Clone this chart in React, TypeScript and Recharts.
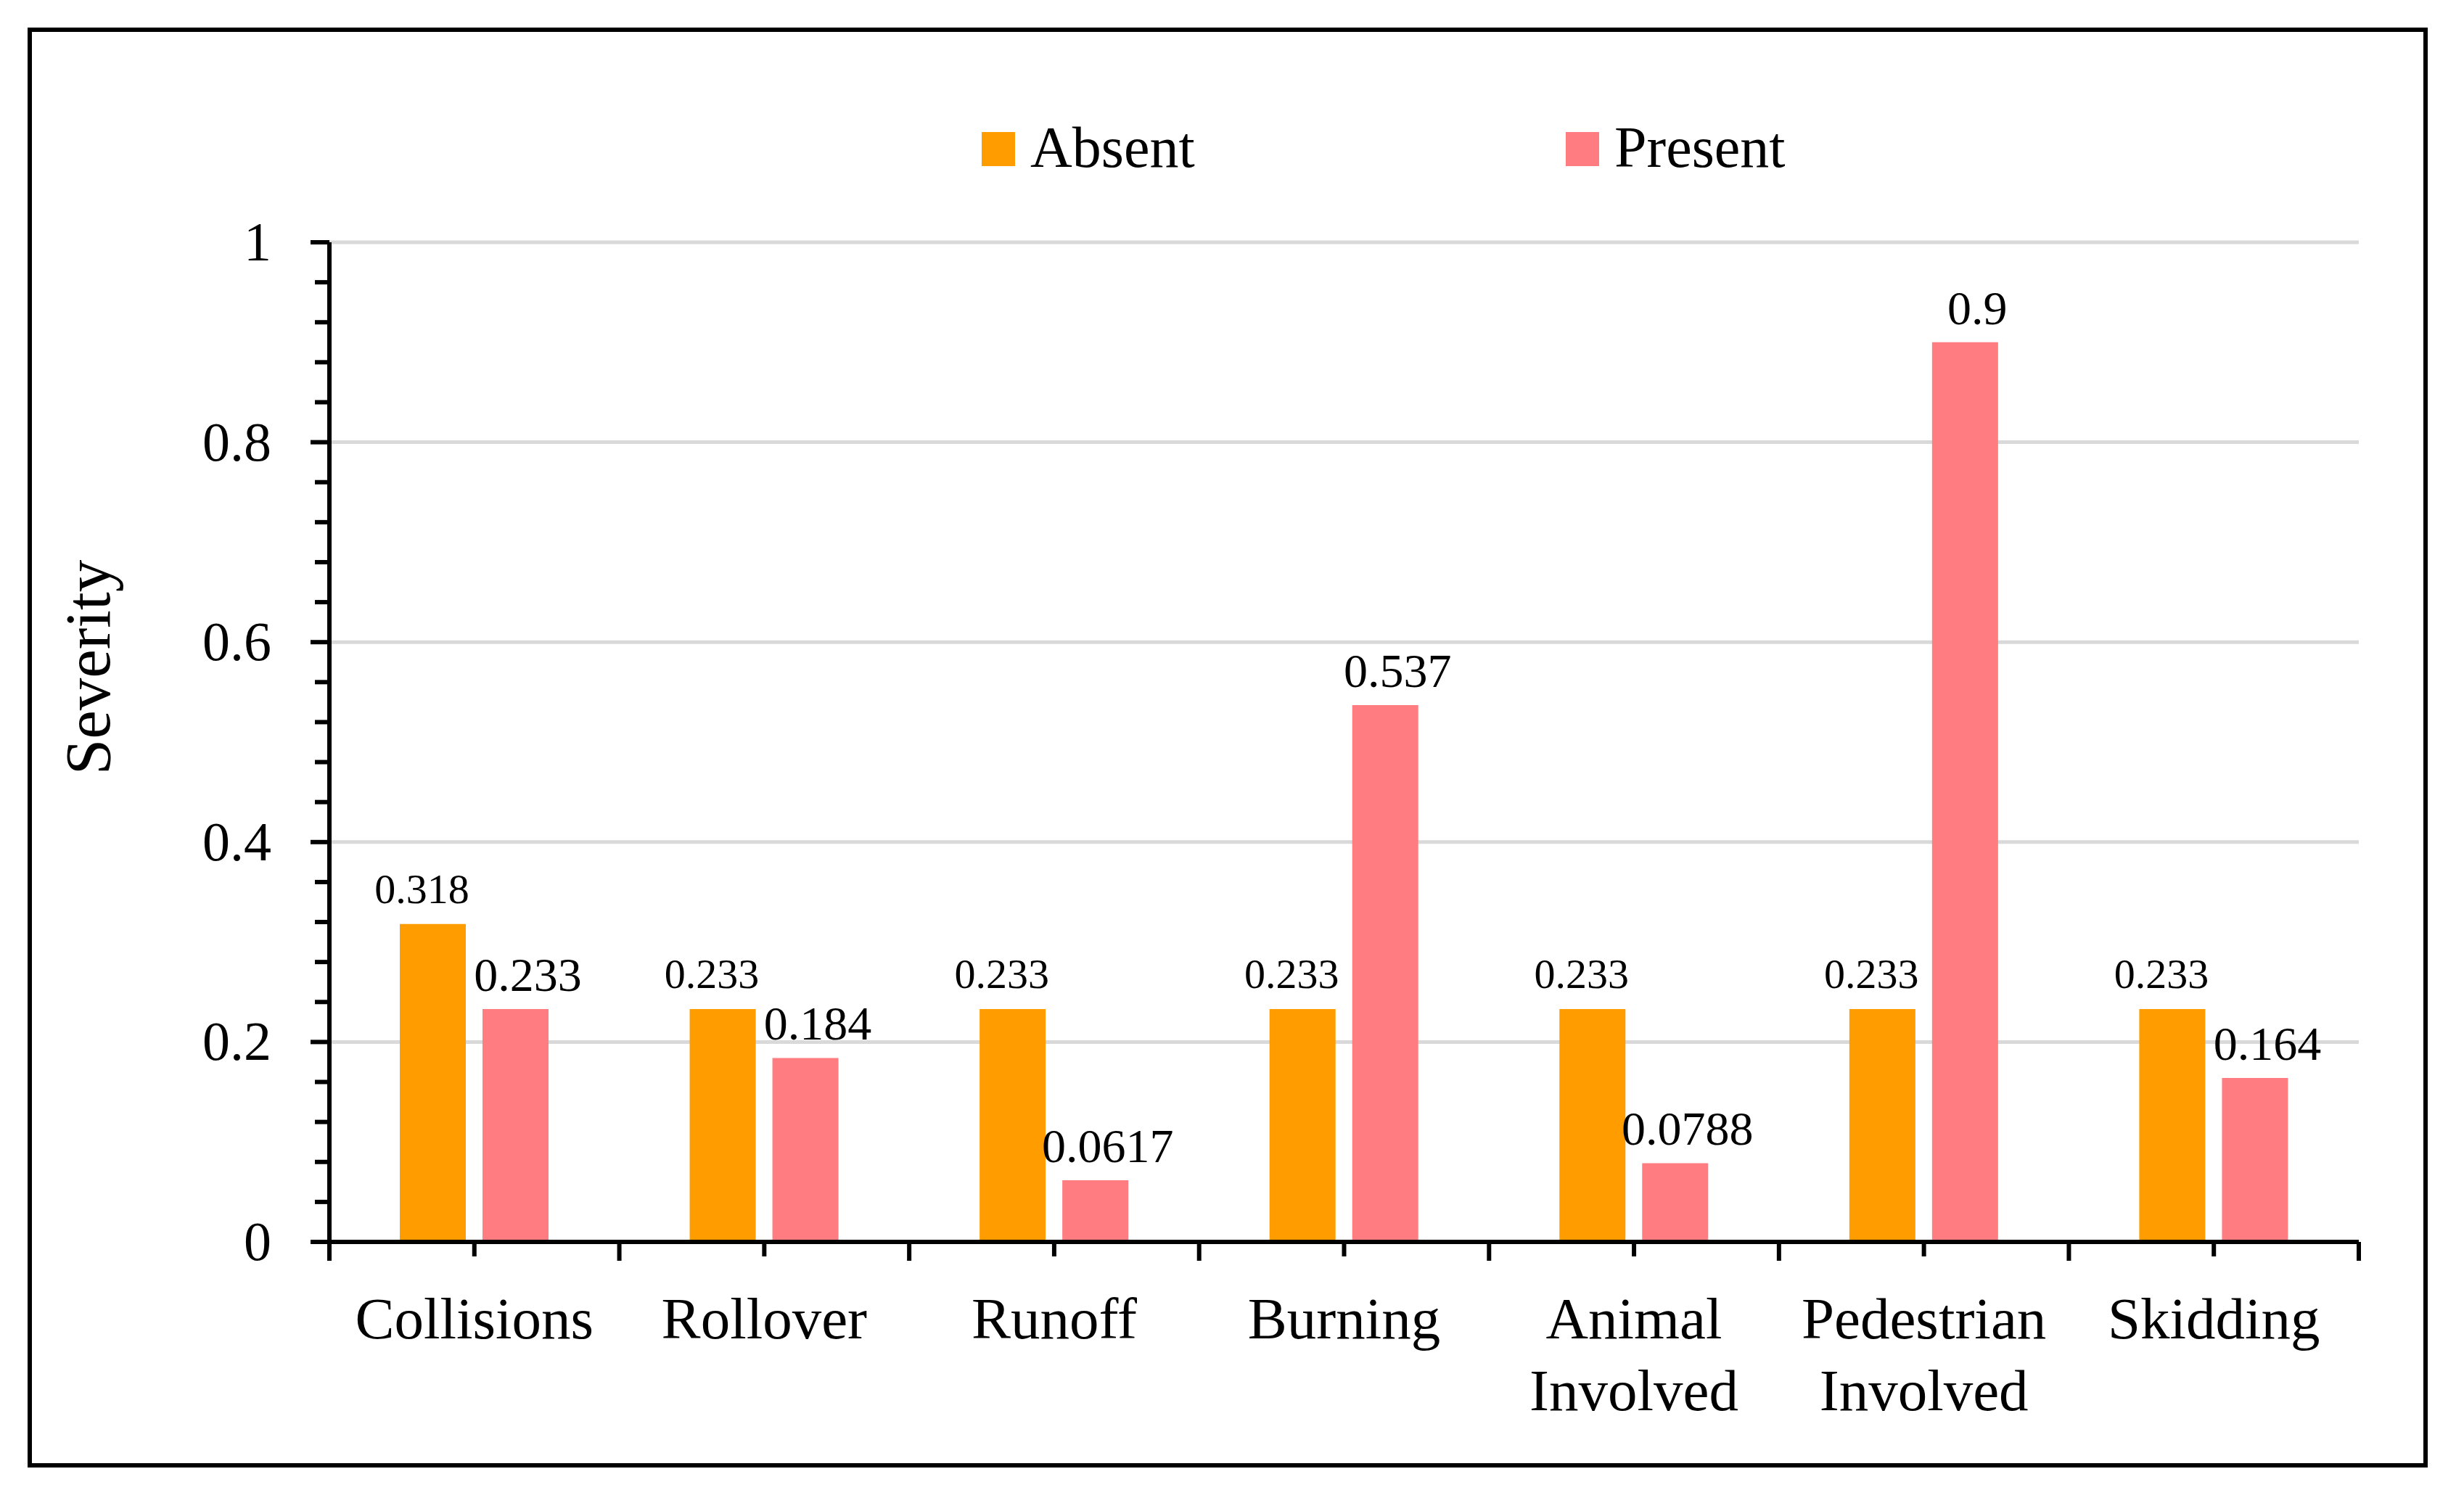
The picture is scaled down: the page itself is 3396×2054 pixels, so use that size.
import React from 'react';
import { BarChart, Bar, XAxis, YAxis, CartesianGrid, LabelList } from 'recharts';

const categories = ['Collisions', 'Rollover', 'Runoff', 'Burning', 'Animal Involved', 'Pedestrian Involved', 'Skidding'];
const absentValues = [0.318, 0.233, 0.233, 0.233, 0.233, 0.233, 0.233];
const presentValues = [0.233, 0.184, 0.0617, 0.537, 0.0788, 0.9, 0.164];
const seriesNames = ['Absent', 'Present'];
const majorTicks = [0, 0.2, 0.4, 0.6, 0.8, 1];

const FONT = "'Palatino Linotype', 'Book Antiqua', Palatino, 'Liberation Serif', serif";
const COLORS = ['#FF9C00', '#FF7C80'];
const W = 3396;
const H = 2054;
const PLOT_LEFT = 454;
const PLOT_RIGHT = 3251;
const BAND = (PLOT_RIGHT - PLOT_LEFT) / categories.length;

// minor ticks every 0.04
const yTicks = Array.from({ length: 26 }, (_, i) => (i * 4) / 100);

const data = categories.map((name, i) => ({
  name,
  Absent: absentValues[i],
  Present: presentValues[i],
}));

function isMajor(v: number) {
  return majorTicks.some((m) => Math.abs(m - v) < 1e-6);
}

function YTick(props: any) {
  const { x, y, payload } = props;
  const v = payload.value as number;
  const major = isMajor(v);
  return (
    <g>
      <line x1={x - (major ? 26 : 20)} x2={x} y1={y} y2={y} stroke="#000" strokeWidth={6} />
      {major && (
        <text x={x - 80} y={y + 25} textAnchor="end" fontSize={76} fontFamily={FONT} fill="#000">
          {String(v)}
        </text>
      )}
    </g>
  );
}

function XTick(props: any) {
  const { x, y, payload, index } = props;
  const lines = String(payload.value).split(' ');
  const half = BAND / 2;
  return (
    <g>
      <line x1={x} x2={x} y1={y} y2={y + 20} stroke="#000" strokeWidth={6} />
      <line x1={x - half} x2={x - half} y1={y} y2={y + 26} stroke="#000" strokeWidth={6} />
      {index === categories.length - 1 && (
        <line x1={x + half} x2={x + half} y1={y} y2={y + 26} stroke="#000" strokeWidth={6} />
      )}
      <text textAnchor="middle" fontSize={81} fontFamily={FONT} fill="#000">
        {lines.map((l, i) => (
          <tspan key={i} x={x} y={y + 133 + i * 99}>
            {l}
          </tspan>
        ))}
      </text>
    </g>
  );
}

function makeValueLabel(dx: number, lift: number, size: number) {
  return (props: any) => {
    const { x, y, width, value } = props;
    return (
      <text x={x + width / 2 + dx} y={y - lift} textAnchor="middle" fontSize={size} fontFamily={FONT} fill="#000">
        {String(value)}
      </text>
    );
  };
}

export default function App() {
  return (
    <div style={{ position: 'absolute', left: 0, top: 0, width: W, height: H, background: '#fff', overflow: 'hidden' }}>
      <div
        style={{
          position: 'absolute',
          left: 38,
          top: 38,
          width: 3346 - 38,
          height: 2023 - 38,
          border: '6px solid #000',
          boxSizing: 'border-box',
        }}
      />
      {seriesNames.map((s, i) => (
        <div
          key={s}
          style={{
            position: 'absolute',
            left: 1353 + i * 805,
            top: 150,
            height: 110,
            display: 'flex',
            alignItems: 'center',
            fontFamily: FONT,
            fontSize: 80,
            color: '#000',
            whiteSpace: 'nowrap',
          }}
        >
          <span style={{ display: 'inline-block', width: 46, height: 47, background: COLORS[i], marginRight: 21 }} />
          <span style={{ lineHeight: '110px', position: 'relative', top: -2 }}>{s}</span>
        </div>
      ))}
      <div style={{ position: 'absolute', left: 0, top: 0 }}>
        <BarChart
          width={W}
          height={H}
          data={data}
          margin={{ top: 334, right: W - PLOT_RIGHT, bottom: 42, left: 0 }}
          barSize={91}
          barGap={23}
        >
          <CartesianGrid horizontal vertical={false} horizontalValues={majorTicks} stroke="#d9d9d9" strokeWidth={5} />
          <XAxis
            dataKey="name"
            height={300}
            interval={0}
            tickSize={0}
            tickMargin={0}
            tickLine={false}
            tick={<XTick />}
            axisLine={{ stroke: '#000', strokeWidth: 6 }}
          />
          <YAxis
            width={PLOT_LEFT}
            domain={[0, 1]}
            ticks={yTicks}
            interval={0}
            tickSize={0}
            tickMargin={0}
            tickLine={false}
            tick={<YTick />}
            axisLine={{ stroke: '#000', strokeWidth: 6 }}
            label={{
              content: () => (
                <text x={151} y={920} transform="rotate(-90 151 920)" textAnchor="middle" fontSize={89} fontFamily={FONT} fill="#000">
                  Severity
                </text>
              ),
            }}
          />
          <Bar dataKey="Absent" fill={COLORS[0]} isAnimationActive={false}>
            <LabelList dataKey="Absent" content={makeValueLabel(-15, 29, 58)} />
          </Bar>
          <Bar dataKey="Present" fill={COLORS[1]} isAnimationActive={false}>
            <LabelList dataKey="Present" content={makeValueLabel(17, 25, 66)} />
          </Bar>
        </BarChart>
      </div>
    </div>
  );
}
